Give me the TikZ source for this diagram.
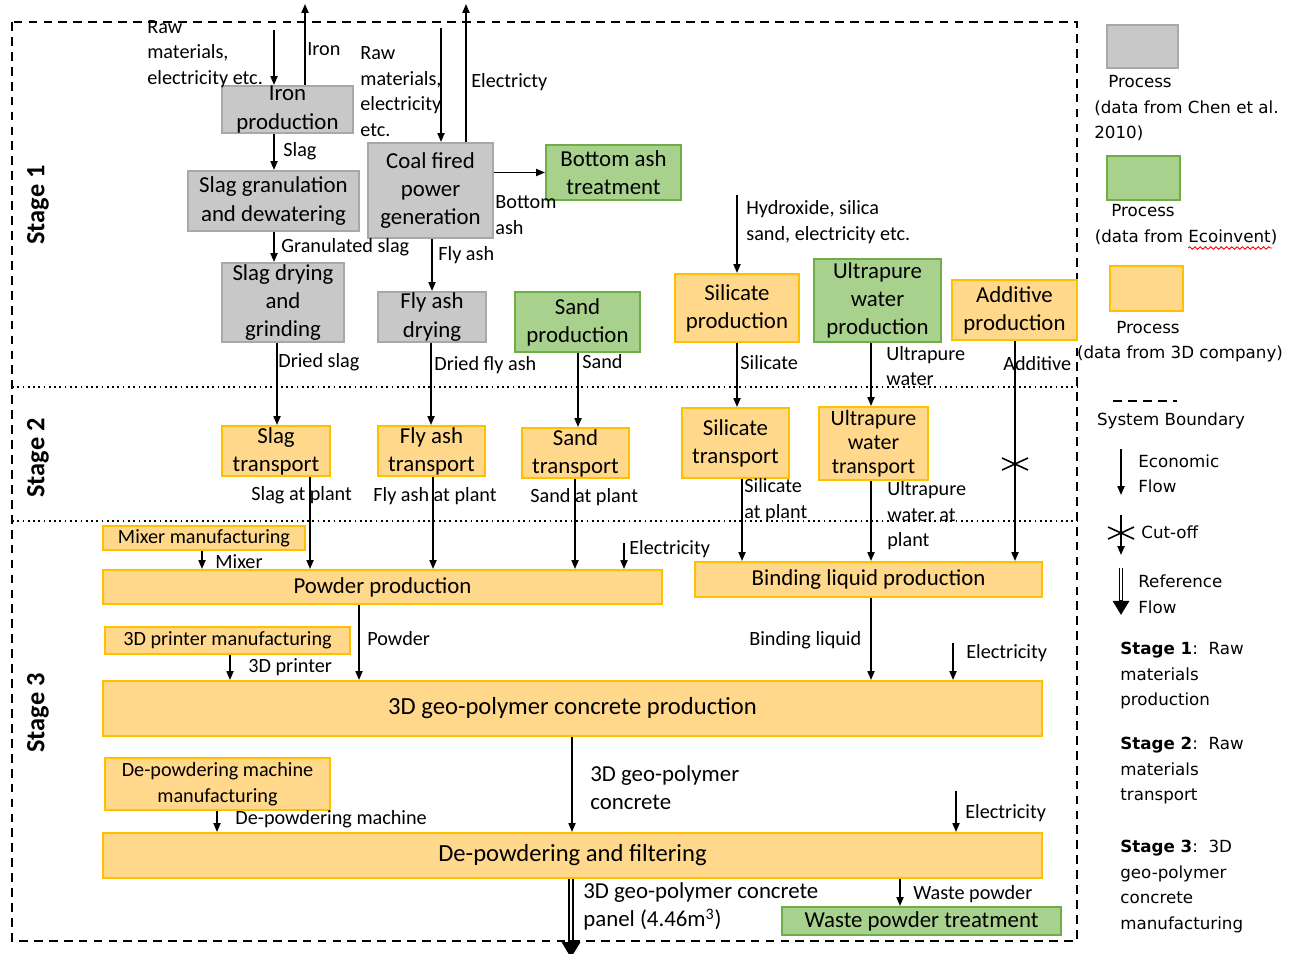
\documentclass[tikz,border=0pt]{standalone}
\usepackage{fontspec}
\setmainfont{Carlito}
\newfontfamily\legendfont{DejaVu Sans}
\usetikzlibrary{arrows.meta,decorations.pathmorphing}

\definecolor{grayfill}{RGB}{200,200,200}
\definecolor{graydraw}{RGB}{168,168,168}
\definecolor{greenfill}{RGB}{169,209,142}
\definecolor{greendraw}{RGB}{112,173,71}
\definecolor{orangefill}{RGB}{255,216,140}
\definecolor{orangedraw}{RGB}{255,192,0}

\newcommand{\procfont}{\fontsize{13}{16}\selectfont}
\newcommand{\tightprocfont}{\fontsize{12.5}{13.6}\selectfont}
\newcommand{\bigprocfont}{\fontsize{14}{17}\selectfont}
\newcommand{\smallprocfont}{\fontsize{11.5}{14.5}\selectfont}
\newcommand{\flowfont}{\fontsize{11.5}{14.5}\selectfont}
\newcommand{\stagefont}{\bfseries\fontsize{15}{18}\selectfont}
\newcommand{\keyfont}{\legendfont\fontsize{9.5}{14.5}\selectfont}

\tikzset{
  chenproc/.style={draw=graydraw, fill=grayfill, line width=1.2pt, inner sep=0pt, align=center, font=\procfont},
  ecoproc/.style={draw=greendraw, fill=greenfill, line width=1.2pt, inner sep=0pt, align=center, font=\procfont},
  compproc/.style={draw=orangedraw, fill=orangefill, line width=1.2pt, inner sep=0pt, align=center, font=\procfont},
  flow/.style={line width=0.9pt, -{Triangle[length=5pt,width=4pt]}},
  flowlbl/.style={inner sep=0pt, align=left, anchor=west, font=\flowfont},
  keylbl/.style={inner sep=0pt, align=left, font=\keyfont},
  stagelbl/.style={inner sep=0pt, rotate=90, font=\stagefont},
  boundary/.style={line width=1.2pt, dash pattern=on 5pt off 3.5pt},
  stageline/.style={line width=1pt, dotted},
  cutmark/.style={line width=0.9pt},
}

\begin{document}
\begin{tikzpicture}[x=0.02cm, y=-0.02cm]
  \useasboundingbox (0,0) rectangle (1293,953);

  \draw[boundary] (12,22) rectangle (1077,941);
  \draw[stageline] (12,387) -- (1077,387);
  \draw[stageline] (12,521) -- (1077,521);

  \node[stagelbl] (stage1) at (38,205) {Stage 1};
  \node[stagelbl] (stage2) at (38,458) {Stage 2};
  \node[stagelbl] (stage3) at (38,713) {Stage 3};

  % stage 1
  \node[chenproc, minimum width=2.62cm, minimum height=0.94cm] (iron) at (287.5,109.5) {Iron\\production};
  \node[chenproc, minimum width=3.42cm, minimum height=1.2cm] (slaggran) at (273.5,201) {Slag granulation\\and dewatering};
  \node[chenproc, minimum width=2.5cm, minimum height=1.9cm] (coal) at (430.5,190.5) {Coal fired\\power\\generation};
  \node[chenproc, minimum width=2.44cm, minimum height=1.58cm] (slagdry) at (283,302.5) {Slag drying\\and\\grinding};
  \node[chenproc, minimum width=2.16cm, minimum height=1cm] (fadry) at (432,317) {Fly ash\\drying};
  \node[ecoproc, minimum width=2.7cm, minimum height=1.1cm] (bottom) at (613.5,172.5) {Bottom ash\\treatment};
  \node[ecoproc, minimum width=2.5cm, minimum height=1.2cm] (sandprod) at (577.5,322) {Sand\\production};
  \node[compproc, minimum width=2.48cm, minimum height=1.36cm] (silprod) at (737,308) {Silicate\\production};
  \node[ecoproc, minimum width=2.54cm, minimum height=1.66cm] (upwprod) at (877.5,300.5) {Ultrapure\\water\\production};
  \node[compproc, minimum width=2.5cm, minimum height=1.2cm] (addprod) at (1014.5,310) {Additive\\production};

  % stage 2
  \node[compproc, minimum width=2.16cm, minimum height=1cm] (slagtr) at (276,451) {Slag\\transport};
  \node[compproc, minimum width=2.14cm, minimum height=1cm] (fatr) at (431.5,451) {Fly ash\\transport};
  \node[compproc, minimum width=2.14cm, minimum height=1cm] (sandtr) at (575.5,453) {Sand\\transport};
  \node[compproc, minimum width=2.14cm, minimum height=1.4cm] (siltr) at (735.5,443) {Silicate\\transport};
  \node[compproc, font=\tightprocfont, minimum width=2.18cm, minimum height=1.46cm] (upwtr) at (873.5,443.5) {Ultrapure\\water\\transport};

  % stage 3
  \node[compproc, font=\smallprocfont, minimum width=4.04cm, minimum height=0.48cm] (mixer) at (204,538) {Mixer manufacturing};
  \node[compproc, minimum width=11.18cm, minimum height=0.68cm] (powder) at (382.5,587) {Powder production};
  \node[compproc, minimum width=6.94cm, minimum height=0.7cm] (binding) at (868.5,579.5) {Binding liquid production};
  \node[compproc, font=\smallprocfont, minimum width=4.9cm, minimum height=0.54cm] (printer) at (227.5,640.5) {3D printer manufacturing};
  \node[compproc, font=\bigprocfont, minimum width=18.78cm, minimum height=1.1cm] (concrete) at (572.5,708.5) {3D geo-polymer concrete production};
  \node[compproc, font=\smallprocfont, minimum width=4.5cm, minimum height=1.04cm] (depmach) at (217.5,784) {De-powdering machine\\manufacturing};
  \node[compproc, font=\bigprocfont, minimum width=18.78cm, minimum height=0.9cm] (depowder) at (572.5,855.5) {De-powdering and filtering};
  \node[ecoproc, minimum width=5.58cm, minimum height=0.56cm] (waste) at (921.5,921) {Waste powder treatment};

  \coordinate (rawin1) at (274,30);
  \coordinate (ironout) at (305,4);
  \coordinate (rawin2) at (441,28);
  \coordinate (elecout) at (466,4);
  \coordinate (hydrin) at (737,195);
  \coordinate (elecin1) at (624,543);
  \coordinate (elecin2) at (953,643);
  \coordinate (elecin3) at (956,791);
  \coordinate (panelout) at (571,958);

  \draw[flow] (rawin1) -- (274,0 |- iron.north);
  \draw[flow] (305,0 |- iron.north) -- (ironout);
  \draw[flow] (274,0 |- iron.south) -- (274,0 |- slaggran.north);
  \draw[flow] (rawin2) -- (441,0 |- coal.north);
  \draw[flow] (466,0 |- coal.north) -- (elecout);
  \draw[flow] (coal.east |- bottom.west) -- (bottom.west);
  \draw[flow] (274,0 |- slaggran.south) -- (274,0 |- slagdry.north);
  \draw[flow] (432,0 |- coal.south) -- (432,0 |- fadry.north);
  \draw[flow] (277,0 |- slagdry.south) -- (277,0 |- slagtr.north);
  \draw[flow] (431,0 |- fadry.south) -- (431,0 |- fatr.north);
  \draw[flow] (578,0 |- sandprod.south) -- (578,0 |- sandtr.north);
  \draw[flow] (hydrin) -- (737,0 |- silprod.north);
  \draw[flow] (737,0 |- silprod.south) -- (737,0 |- siltr.north);
  \draw[flow] (871,0 |- upwprod.south) -- (871,0 |- upwtr.north);
  \draw[flow] (1015,0 |- addprod.south) -- (1015,0 |- binding.north);
  \draw[cutmark] (1002,458) -- (1028,470) (1002,470) -- (1028,458);
  \draw[flow] (310,0 |- slagtr.south) -- (310,0 |- powder.north);
  \draw[flow] (433,0 |- fatr.south) -- (433,0 |- powder.north);
  \draw[flow] (575,0 |- sandtr.south) -- (575,0 |- powder.north);
  \draw[flow] (742,0 |- siltr.south) -- (742,0 |- binding.north);
  \draw[flow] (871,0 |- upwtr.south) -- (871,0 |- binding.north);
  \draw[flow] (202,0 |- mixer.south) -- (202,0 |- powder.north);
  \draw[flow] (elecin1) -- (624,0 |- powder.north);
  \draw[flow] (359,0 |- powder.south) -- (359,0 |- concrete.north);
  \draw[flow] (230,0 |- printer.south) -- (230,0 |- concrete.north);
  \draw[flow] (871,0 |- binding.south) -- (871,0 |- concrete.north);
  \draw[flow] (elecin2) -- (953,0 |- concrete.north);
  \draw[flow] (572,0 |- concrete.south) -- (572,0 |- depowder.north);
  \draw[flow] (217,0 |- depmach.south) -- (217,0 |- depowder.north);
  \draw[flow] (elecin3) -- (956,0 |- depowder.north);
  \draw[flow] (900,0 |- depowder.south) -- (900,0 |- waste.north);
  \draw[line width=3pt, -{Triangle[length=9pt,width=10pt]}] (571,0 |- depowder.south) -- (panelout);
  \draw[white, line width=1.1pt] (571,0 |- depowder.south) -- (571,940);

  \node[flowlbl] (rawlbl1) at (147,54) {Raw\\materials,\\electricity etc.};
  \node[flowlbl] (ironlbl) at (307,49) {Iron};
  \node[flowlbl] (rawlbl2) at (360,91.5) {Raw\\materials,\\electricity\\etc.};
  \node[flowlbl] (eleclbl0) at (471,82) {Electricty};
  \node[flowlbl] (slaglbl) at (283,151) {Slag};
  \node[flowlbl] (bottomlbl) at (495,215) {Bottom\\ash};
  \node[flowlbl] (granlbl) at (281,247) {Granulated slag};
  \node[flowlbl] (falbl) at (438,255) {Fly ash};
  \node[flowlbl] (hydrlbl) at (746,222) {Hydroxide, silica\\sand, electricity etc.};
  \node[flowlbl] (drslaglbl) at (278,362) {Dried slag};
  \node[flowlbl] (drfalbl) at (434,365) {Dried fly ash};
  \node[flowlbl] (sandlbl) at (582,362) {Sand};
  \node[flowlbl] (sillbl) at (740,363) {Silicate};
  \node[flowlbl] (upwlbl) at (886,366) {Ultrapure\\water};
  \node[flowlbl] (addlbl) at (1003,364) {Additive};
  \node[flowlbl] (slagplbl) at (251,495) {Slag at plant};
  \node[flowlbl] (faplbl) at (373,496) {Fly ash at plant};
  \node[flowlbl] (sandplbl) at (530,497) {Sand at plant};
  \node[flowlbl] (silplbl) at (744,500) {Silicate\\at plant};
  \node[flowlbl] (upwplbl) at (887,516) {Ultrapure\\water at\\plant};
  \node[flowlbl] (mixerlbl) at (215,562) {Mixer};
  \node[flowlbl] (eleclbl1) at (629,549) {Electricity};
  \node[flowlbl] (powderlbl) at (367,639) {Powder};
  \node[flowlbl] (printerlbl) at (248,667) {3D printer};
  \node[flowlbl] (bindlbl) at (749,640) {Binding liquid};
  \node[flowlbl] (eleclbl2) at (966,653) {Electricity};
  \node[flowlbl, font=\procfont] (concrlbl) at (590,787.5) {3D geo-polymer\\concrete};
  \node[flowlbl] (depmachlbl) at (235,819) {De-powdering machine};
  \node[flowlbl] (eleclbl3) at (965,813) {Electricity};
  \node[flowlbl, font=\procfont] (panellbl) at (583,906.5) {3D geo-polymer concrete\\panel (4.46m\textsuperscript{3})};
  \node[flowlbl] (wastelbl) at (913,894) {Waste powder};

  % legend
  \node[chenproc, minimum width=1.42cm, minimum height=0.86cm] (keychen) at (1142.5,46.5) {};
  \node[keylbl] (keychenlbl) at (1140,82) {Process};
  \node[keylbl, anchor=west] (keychensrc) at (1094,120.5) {(data from Chen et al.\\2010)};
  \node[ecoproc, minimum width=1.46cm, minimum height=0.88cm] (keyeco) at (1143.5,178) {};
  \node[keylbl] (keyecolbl) at (1143,211) {Process};
  \node[keylbl] (keyecosrc) at (1186,237) {(data from Ecoinvent)};
  \draw[red, line width=0.5pt, decorate, decoration={snake, amplitude=0.7pt, segment length=3pt}] (1188,248) -- (1272,248);
  \node[compproc, minimum width=1.46cm, minimum height=0.9cm] (keycomp) at (1146.5,288.5) {};
  \node[keylbl] (keycomplbl) at (1148,328) {Process};
  \node[keylbl] (keycompsrc) at (1180,354) {(data from 3D company)};

  \coordinate (keyb1) at (1113,401);
  \coordinate (keyb2) at (1177,401);
  \draw[boundary] (keyb1) -- (keyb2);
  \node[keylbl] (keyblbl) at (1171,421) {System Boundary};

  \coordinate (keyeco1) at (1121,449);
  \coordinate (keyeco2) at (1121,495);
  \draw[flow] (keyeco1) -- (keyeco2);
  \node[keylbl, anchor=west] (keyecflbl) at (1138,474) {Economic\\Flow};

  \coordinate (keycut1) at (1121,515);
  \coordinate (keycut2) at (1121,555);
  \draw[flow] (keycut1) -- (keycut2);
  \draw[cutmark] (1108,527) -- (1134,539) (1108,539) -- (1134,527);
  \node[keylbl, anchor=west] (keycutlbl) at (1141,532) {Cut-off};

  \coordinate (keyref1) at (1121,568);
  \coordinate (keyref2) at (1121,615);
  \draw[line width=2.6pt, -{Triangle[length=8pt,width=9pt]}] (keyref1) -- (keyref2);
  \draw[white, line width=0.9pt] (keyref1) -- (1121,600);
  \node[keylbl, anchor=west] (keyreflbl) at (1138,594.5) {Reference\\Flow};

  \node[keylbl, anchor=west] (keystage1) at (1120,676) {\textbf{Stage 1}:\ \ Raw\\materials\\production};
  \node[keylbl, anchor=west] (keystage2) at (1120,771) {\textbf{Stage 2}:\ \ Raw\\materials\\transport};
  \node[keylbl, anchor=west] (keystage3) at (1120,886.5) {\textbf{Stage 3}:\ \ 3D\\geo-polymer\\concrete\\manufacturing};
\end{tikzpicture}
\end{document}
